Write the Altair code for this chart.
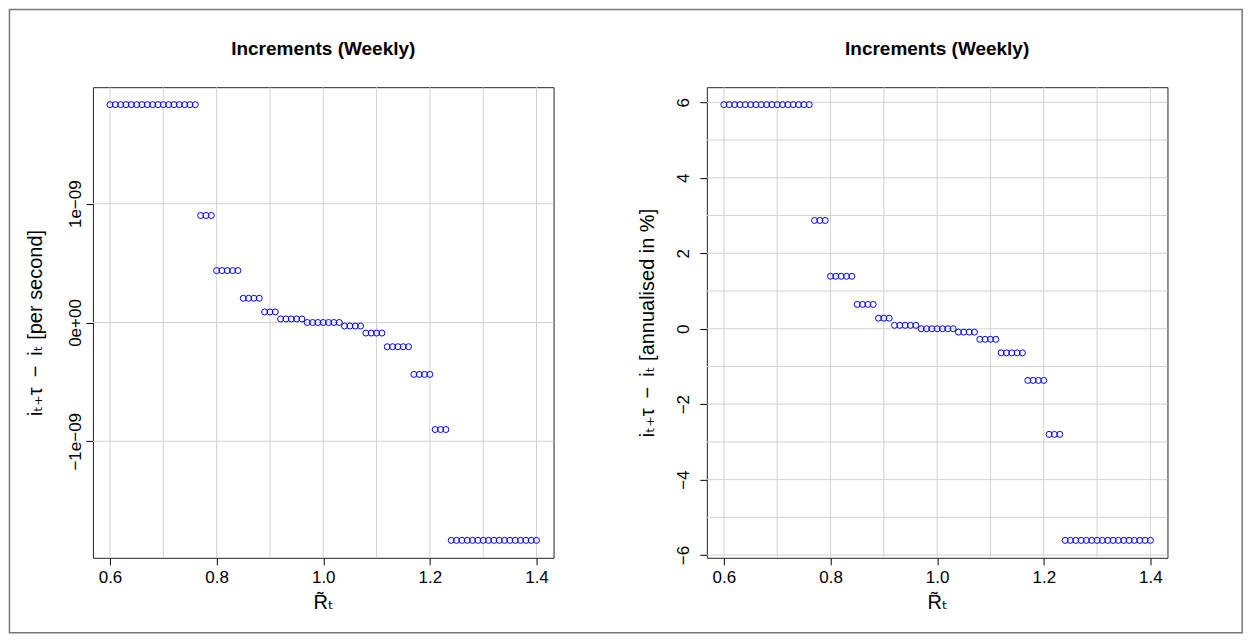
import json
import altair as alt
import pandas as pd

# ---------------- data ----------------
x_vals = [0.60, 0.61, 0.62, 0.63, 0.64, 0.65, 0.66, 0.67, 0.68, 0.69,
          0.70, 0.71, 0.72, 0.73, 0.74, 0.75, 0.76, 0.77, 0.78, 0.79,
          0.80, 0.81, 0.82, 0.83, 0.84, 0.85, 0.86, 0.87, 0.88, 0.89,
          0.90, 0.91, 0.92, 0.93, 0.94, 0.95, 0.96, 0.97, 0.98, 0.99,
          1.00, 1.01, 1.02, 1.03, 1.04, 1.05, 1.06, 1.07, 1.08, 1.09,
          1.10, 1.11, 1.12, 1.13, 1.14, 1.15, 1.16, 1.17, 1.18, 1.19,
          1.20, 1.21, 1.22, 1.23, 1.24, 1.25, 1.26, 1.27, 1.28, 1.29,
          1.30, 1.31, 1.32, 1.33, 1.34, 1.35, 1.36, 1.37, 1.38, 1.39,
          1.40]

# increments per second
y_left = [1.834e-09, 1.834e-09, 1.834e-09, 1.834e-09, 1.834e-09, 1.834e-09,
          1.834e-09, 1.834e-09, 1.834e-09, 1.834e-09, 1.834e-09, 1.834e-09,
          1.834e-09, 1.834e-09, 1.834e-09, 1.834e-09, 1.834e-09,
          0.901e-09, 0.901e-09, 0.901e-09,
          0.437e-09, 0.437e-09, 0.437e-09, 0.437e-09, 0.437e-09,
          0.204e-09, 0.204e-09, 0.204e-09, 0.204e-09,
          0.089e-09, 0.089e-09, 0.089e-09,
          0.030e-09, 0.030e-09, 0.030e-09, 0.030e-09, 0.030e-09,
          0.0, 0.0, 0.0, 0.0, 0.0, 0.0, 0.0,
          -0.030e-09, -0.030e-09, -0.030e-09, -0.030e-09,
          -0.089e-09, -0.089e-09, -0.089e-09, -0.089e-09,
          -0.204e-09, -0.204e-09, -0.204e-09, -0.204e-09, -0.204e-09,
          -0.437e-09, -0.437e-09, -0.437e-09, -0.437e-09,
          -0.901e-09, -0.901e-09, -0.901e-09,
          -1.834e-09, -1.834e-09, -1.834e-09, -1.834e-09, -1.834e-09, -1.834e-09,
          -1.834e-09, -1.834e-09, -1.834e-09, -1.834e-09, -1.834e-09, -1.834e-09,
          -1.834e-09, -1.834e-09, -1.834e-09, -1.834e-09, -1.834e-09]

# increments annualised in %
y_right = [5.94, 5.94, 5.94, 5.94, 5.94, 5.94, 5.94, 5.94, 5.94, 5.94,
           5.94, 5.94, 5.94, 5.94, 5.94, 5.94, 5.94,
           2.87, 2.87, 2.87,
           1.39, 1.39, 1.39, 1.39, 1.39,
           0.645, 0.645, 0.645, 0.645,
           0.28, 0.28, 0.28,
           0.09, 0.09, 0.09, 0.09, 0.09,
           0.0, 0.0, 0.0, 0.0, 0.0, 0.0, 0.0,
           -0.09, -0.09, -0.09, -0.09,
           -0.28, -0.28, -0.28, -0.28,
           -0.64, -0.64, -0.64, -0.64, -0.64,
           -1.37, -1.37, -1.37, -1.37,
           -2.80, -2.80, -2.80,
           -5.61, -5.61, -5.61, -5.61, -5.61, -5.61, -5.61, -5.61, -5.61,
           -5.61, -5.61, -5.61, -5.61, -5.61, -5.61, -5.61, -5.61]

x_ticks = [0.6, 0.8, 1.0, 1.2, 1.4]
x_grid = [0.6, 0.7, 0.8, 0.9, 1.0, 1.1, 1.2, 1.3, 1.4]
yl_ticks = [-1e-09, 0.0, 1e-09]
yl_labels = ["−1e−09", "0e+00", "1e−09"]
yl_grid = [-1e-09, 0.0, 1e-09]
yr_ticks = [-6, -4, -2, 0, 2, 4, 6]
yr_grid = [-6, -5, -4, -3, -2, -1, 0, 1, 2, 3, 4, 5, 6]

panel_title = "Increments (Weekly)"
x_title = "R̃ₜ"
yl_title = "iₜ₊τ\u2002−\u2002iₜ [per second]"
yr_title = "iₜ₊τ\u2002−\u2002iₜ [annualised in %]"

x_domain = [0.568, 1.432]
yl_domain = [-1.981e-09, 1.981e-09]
yr_domain = [-6.072, 6.402]

# ---------------- styling ----------------
FONT = "Liberation Sans, Arial, DejaVu Sans, sans-serif"
W, H = 461, 471
GRID = "#d3d3d3"


def panel(yvals, ydomain, yticks, ygrid, ytitle, label_pad, title_x,
          label_expr=None, fmt=None):
    xs = alt.Scale(domain=x_domain, nice=False, zero=False)
    ys = alt.Scale(domain=ydomain, nice=False, zero=False)
    xaxis = alt.Axis(values=x_ticks, format=".1f", labelPadding=5,
                     title=x_title, titleX=W / 2, titleY=51,
                     titleAlign="center", titleBaseline="alphabetic")
    ykw = dict(values=yticks, labelAngle=270, labelAlign="center",
               labelBaseline="middle", labelPadding=label_pad,
               title=ytitle, titleX=title_x, titleY=H / 2, titleAngle=270,
               titleAlign="center", titleBaseline="middle")
    if label_expr is not None:
        ykw["labelExpr"] = label_expr
    if fmt is not None:
        ykw["format"] = fmt
    yaxis = alt.Axis(**ykw)
    gx = alt.Chart(pd.DataFrame({"x": x_grid})).mark_rule(
        color=GRID, strokeWidth=1).encode(x=alt.X("x:Q", scale=xs, axis=xaxis))
    gy = alt.Chart(pd.DataFrame({"y": ygrid})).mark_rule(
        color=GRID, strokeWidth=1).encode(y=alt.Y("y:Q", scale=ys, axis=yaxis))
    pts = alt.Chart(pd.DataFrame({"x": x_vals, "y": yvals})).mark_point(
        shape="circle", filled=False, color="#0000ff", size=36,
        strokeWidth=1, opacity=1).encode(
        x=alt.X("x:Q", scale=xs, axis=xaxis),
        y=alt.Y("y:Q", scale=ys, axis=yaxis))
    return alt.layer(gx, gy, pts).properties(
        width=W, height=H,
        title=alt.Title(panel_title, anchor="middle", frame="group",
                        offset=13, baseline="alphabetic"),
        view=alt.ViewBackground(stroke="#222222", strokeWidth=1))


left_expr = "{}[indexof({}, datum.value)]".format(
    json.dumps(yl_labels, ensure_ascii=False), json.dumps(yl_ticks))

left = panel(y_left, yl_domain, yl_ticks, yl_grid, yl_title, 10, -57,
             label_expr=left_expr)
right = panel(y_right, yr_domain, yr_ticks, yr_grid, yr_title, 16, -59, fmt="d")

inner = alt.hconcat(left, right, spacing=153.4, bounds="flush")

# outer frame of the figure
border = alt.Chart(alt.Data(values=[{}])).mark_rect(
    fill="transparent", stroke="#777777", strokeWidth=1.5, clip=False).encode(
    x=alt.value(-83.55), x2=alt.value(1150.2),
    y=alt.value(-76.75), y2=alt.value(547.0)).properties(
    width=1, height=1, view=alt.ViewBackground(stroke="transparent"))

chart = alt.vconcat(border, inner, spacing=0, bounds="flush").properties(
    padding=0, background="white"
).configure_axis(
    labelFont=FONT, labelFontSize=17, labelColor="black",
    titleFont=FONT, titleFontSize=20, titleColor="black", titleFontWeight="normal",
    tickColor="black", tickSize=7, tickWidth=1, domain=False, grid=False,
    labelFlush=False, labelOverlap=False
).configure_title(
    font=FONT, fontSize=19, fontWeight="bold", color="black"
)

chart.save("out.html", embed_options={"renderer": "svg", "actions": False})
